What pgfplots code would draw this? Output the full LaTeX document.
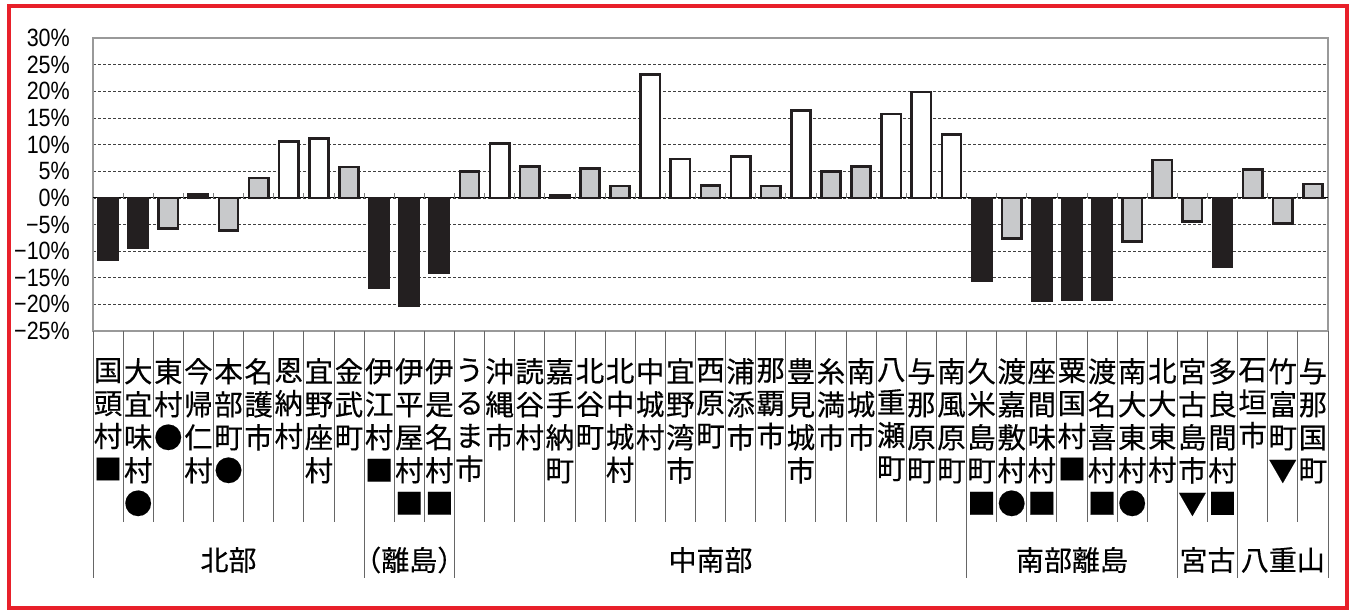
\documentclass[border=0pt]{standalone}
\usepackage{pgfplots}
\pgfplotsset{compat=1.18}
\usepackage{fontspec}
\newfontfamily\cjk[FakeBold=0.3]{Noto Sans CJK JP}
\newfontfamily\cjkn[FakeBold=0.3]{Noto Sans CJK JP}
\newfontfamily\ticks[FakeStretch=0.86]{Liberation Sans}
\definecolor{barblack}{HTML}{231F20}
\definecolor{bargray}{HTML}{C8C9CB}
\definecolor{framered}{HTML}{E8202A}
\begin{document}
\begin{tikzpicture}
\useasboundingbox (0,0) rectangle (1351pt,610pt);
\begin{axis}[
  at={(93pt,279pt)}, anchor=south west,
  scale only axis, width=1235pt, height=293pt,
  xmin=-0.5, xmax=40.5, ymin=-25, ymax=30,
  axis line style={draw=black!40, line width=1.3pt},
  ytick={-25,-20,...,30},
  yticklabels={−25\%,−20\%,−15\%,−10\%,−5\%,0\%,5\%,10\%,15\%,20\%,25\%,30\%},
  yticklabel style={font=\ticks\fontsize{25}{25}\selectfont, anchor=east, inner sep=0pt, xshift=-23pt},
  ymajorgrids, major grid style={densely dashed, black!75, line width=0.6pt},
  extra y ticks={0}, extra y tick labels={},
  extra y tick style={major grid style={solid, black, line width=0.9pt}},
  major tick length=0pt,
  tick pos=left,
  xtick={0,...,40},
  xticklabels={{国\\頭\\村\\■},{大\\宜\\味\\村\\●},{東\\村\\●},{今\\帰\\仁\\村},{本\\部\\町\\●},{名\\護\\市},{恩\\納\\村},{宜\\野\\座\\村},{金\\武\\町},{伊\\江\\村\\■},{伊\\平\\屋\\村\\■},{伊\\是\\名\\村\\■},{う\\る\\ま\\市},{沖\\縄\\市},{読\\谷\\村},{嘉\\手\\納\\町},{北\\谷\\町},{北\\中\\城\\村},{中\\城\\村},{宜\\野\\湾\\市},{西\\原\\町},{浦\\添\\市},{那\\覇\\市},{豊\\見\\城\\市},{糸\\満\\市},{南\\城\\市},{八\\重\\瀬\\町},{与\\那\\原\\町},{南\\風\\原\\町},{久\\米\\島\\町\\■},{渡\\嘉\\敷\\村\\●},{座\\間\\味\\村\\■},{粟\\国\\村\\■},{渡\\名\\喜\\村\\■},{南\\大\\東\\村\\●},{北\\大\\東\\村},{宮\\古\\島\\市\\▼},{多\\良\\間\\村\\■},{石\\垣\\市},{竹\\富\\町\\▼},{与\\那\\国\\町}},
  xticklabel style={font=\cjk\fontsize{28.5}{33}\selectfont, align=center, anchor=north, inner sep=0pt, yshift=-27pt},
  clip=false,
]
\addplot[ybar, bar width=0.64, bar shift=0pt, fill=barblack, draw=barblack, line width=2.6pt]
  coordinates {(0,-11.7) (1,-9.4) (3,0.6) (9,-16.9) (10,-20.2) (11,-14.1) (15,0.4) (29,-15.6) (31,-19.4) (32,-19.1) (33,-19.2) (37,-13.0)};
\addplot[ybar, bar width=0.64, bar shift=0pt, fill=bargray, draw=barblack, line width=2.6pt]
  coordinates {(2,-5.75) (4,-6.1) (5,3.75) (8,5.8) (12,4.9) (14,5.9) (16,5.5) (17,2.25) (20,2.3) (22,2.25) (24,4.9) (25,5.9) (30,-7.6) (34,-8.25) (35,7.1) (36,-4.4) (38,5.3) (39,-4.8) (40,2.6)};
\addplot[ybar, bar width=0.64, bar shift=0pt, fill=white, draw=barblack, line width=2.6pt]
  coordinates {(6,10.6) (7,11.1) (13,10.25) (18,23.1) (19,7.25) (21,7.75) (23,16.4) (26,15.75) (27,19.9) (28,11.9)};
\end{axis}
% category separators below the axis
\foreach \k in {1,...,8,10,11,13,14,...,28,30,31,...,35,37,39,40}
  \draw[black!60, line width=0.9pt] (93pt+\k*30.122pt,279pt) -- ++(0,-191pt);
\foreach \k in {0,9,12,29,36,38,41}
  \draw[black!60, line width=0.9pt] (93pt+\k*30.122pt,279pt) -- ++(0,-247pt);
% small ticks on the zero line
\foreach \k in {1,...,40}
  \draw[black!50, line width=0.8pt] (93pt+\k*30.122pt,412.2pt) -- ++(0,5pt);
% group labels
\begin{scope}[every node/.style={font=\cjkn\fontsize{28}{28}\selectfont, inner sep=0pt}]
\node at (228.5pt,50pt) {北部};
\node at (409.3pt,50pt) {（離島）};
\node at (710.5pt,50pt) {中南部};
\node at (1072pt,50pt) {南部離島};
\node at (1207.5pt,50pt) {宮古};
\node at (1282.8pt,50pt) {八重山};
\end{scope}
\draw[framered, line width=4pt] (8.7pt,604pt) rectangle (1347pt,2.3pt);
\end{tikzpicture}
\end{document}
